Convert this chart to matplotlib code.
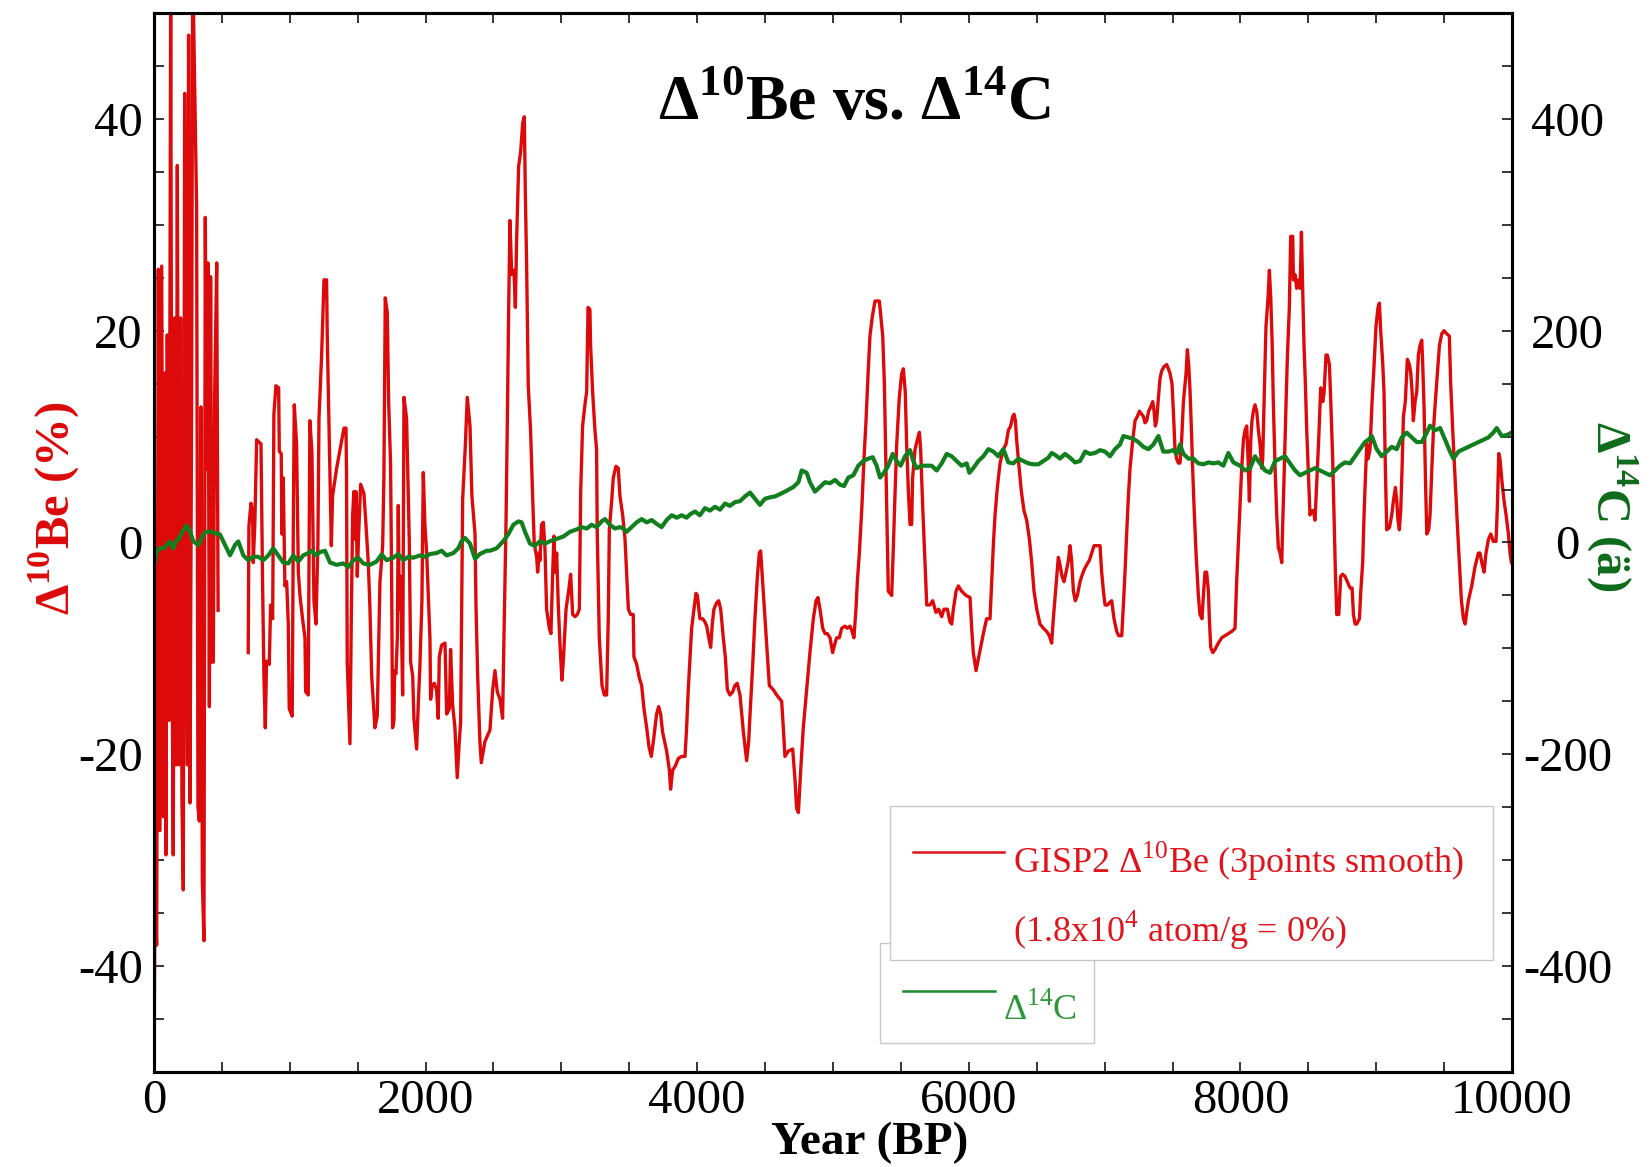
import numpy as np
import matplotlib
matplotlib.use("Agg")
import matplotlib.pyplot as plt
from matplotlib.ticker import MultipleLocator
from matplotlib.patches import Rectangle

plt.rcParams['font.family'] = ['Liberation Serif', 'DejaVu Serif']
plt.rcParams['mathtext.fontset'] = 'custom'
plt.rcParams['mathtext.rm'] = 'Liberation Serif'
plt.rcParams['mathtext.bf'] = 'Liberation Serif:bold'
plt.rcParams['axes.unicode_minus'] = False

# GISP2 10Be (3 points smooth), % ; gap between ~470 and ~700 BP
be_year = [0, 7, 20, 32, 44, 57, 69, 81, 88, 98, 111, 123, 133, 142, 152, 162, 172, 184, 196, 206,
           216, 226, 236, 246, 255, 265, 277, 285, 302, 314, 324, 334, 346, 356, 368, 378, 388, 398,
           408, 417, 427, 437, 447, 462, 472, 580,
           694, 699, 714, 726, 731, 743, 756, 788, 800, 810, 820, 829, 849, 859, 874, 883, 898, 918,
           923, 937, 942, 952, 964, 977, 989, 996, 1018, 1026, 1033, 1050, 1063, 1075, 1094, 1112,
           1117, 1136, 1148, 1163, 1178, 1193, 1207, 1215, 1234, 1252, 1271, 1276, 1291, 1306, 1315,
           1345, 1399, 1414, 1418, 1423, 1443, 1453, 1463, 1472, 1482, 1487, 1497, 1507, 1522, 1546,
           1561, 1578, 1590, 1603, 1627, 1644, 1664, 1684, 1693, 1703, 1718, 1728, 1742, 1750, 1757,
           1767, 1772, 1782, 1792, 1799, 1806, 1816, 1824, 1831, 1841, 1860, 1880, 1890, 1905, 1914,
           1934, 1946, 1958, 1973, 1983, 1995, 2008, 2020, 2032, 2037, 2049, 2064, 2081, 2093, 2101,
           2118, 2143, 2155, 2175, 2184, 2199, 2216, 2233, 2248, 2258, 2273, 2292, 2307, 2327, 2341,
           2364, 2371, 2383, 2400, 2410, 2425, 2437,
           2474, 2494, 2511, 2528, 2548, 2567, 2577, 2592, 2602, 2611, 2621, 2634, 2651, 2661, 2670,
           2685, 2700, 2715, 2727, 2734, 2744, 2756, 2773, 2788, 2800, 2818, 2825, 2837, 2842, 2854,
           2867, 2879, 2891, 2911, 2923, 2935, 2945, 2955, 2965, 2977, 2989, 3004, 3014, 3034, 3053,
           3068, 3083, 3100, 3117, 3132, 3142, 3156, 3176, 3186, 3196, 3210, 3215, 3230, 3247, 3259,
           3264, 3279, 3299, 3316, 3333, 3345, 3353, 3370, 3382, 3402, 3419, 3431, 3451, 3468, 3480,
           3493, 3510, 3529, 3534, 3554, 3574, 3591, 3608, 3628, 3645, 3662, 3677, 3701, 3716, 3731,
           3745, 3775, 3795, 3804, 3819, 3839, 3861, 3885, 3910, 3922, 3934, 3947, 3959, 3976, 3991,
           4001, 4020, 4040, 4057, 4070, 4082, 4099, 4111, 4123, 4143, 4158, 4173, 4192, 4207, 4222,
           4241, 4261, 4278, 4295,
           4315, 4340, 4364, 4379, 4389, 4408, 4425, 4443, 4457, 4467, 4477, 4492, 4511, 4531, 4560,
           4585, 4622, 4634, 4646, 4671, 4703, 4720, 4732, 4745, 4762, 4781, 4806, 4830, 4855, 4875,
           4889, 4904, 4924, 4941, 4958, 4978, 4997, 5015, 5027, 5046, 5064, 5088, 5105, 5125, 5140,
           5154, 5169, 5179, 5194, 5213, 5228, 5243, 5258, 5272, 5289, 5309, 5341, 5366, 5378, 5390,
           5400, 5407, 5432, 5444, 5456, 5469, 5488, 5505, 5518, 5532, 5542, 5555, 5567, 5579, 5586,
           5604, 5621, 5636, 5645, 5660, 5677, 5690, 5714, 5734, 5758, 5778, 5800, 5817, 5842, 5861,
           5874, 5886, 5906, 5923, 5947, 5979, 6009, 6021, 6033, 6053, 6070, 6087, 6107, 6131,
           6156, 6168, 6181, 6193, 6210, 6230, 6254, 6274, 6291, 6308, 6323, 6333, 6343, 6352, 6367,
           6387, 6406, 6426, 6446, 6463, 6480, 6500, 6524, 6549, 6573, 6593, 6610, 6622, 6642, 6659,
           6671, 6686, 6701, 6716, 6733, 6745, 6757, 6770, 6784, 6799, 6819, 6831, 6848, 6868, 6887,
           6905, 6922, 6946, 6966, 6978, 6991, 7003, 7020, 7035, 7052, 7069, 7089, 7103, 7126, 7138,
           7150, 7162, 7175, 7187, 7207, 7224, 7241, 7256, 7273, 7285, 7297, 7310, 7324, 7339, 7354,
           7364, 7373, 7383, 7396, 7408, 7420, 7437, 7457, 7481, 7496, 7506, 7518, 7530, 7543, 7555,
           7567, 7580, 7599, 7609, 7619, 7629, 7639, 7648, 7658, 7673, 7690, 7702, 7717, 7727, 7739,
           7751, 7764, 7771, 7781, 7796, 7813, 7837, 7862, 7887, 7911, 7936, 7960, 7972,
           8009, 8022, 8034, 8046, 8056, 8066, 8076, 8085, 8095, 8107, 8120, 8132, 8144, 8157, 8164,
           8174, 8188, 8203, 8213, 8223, 8233, 8242, 8255, 8267, 8279, 8292, 8304, 8311, 8321, 8336,
           8346, 8360, 8370, 8385, 8390, 8402, 8414, 8427, 8439, 8449, 8458, 8468, 8478, 8488, 8500,
           8512, 8525, 8537, 8549, 8562, 8576, 8591, 8606, 8616, 8630, 8640, 8655, 8665, 8679, 8689,
           8699, 8709, 8724, 8738, 8753, 8770, 8787, 8807, 8822, 8832, 8844, 8856, 8876, 8886, 8900,
           8910, 8920, 8930, 8940, 8954, 8969, 8984, 8998, 9013, 9023, 9033, 9048, 9057, 9067, 9077,
           9097, 9114, 9126, 9141, 9151, 9160, 9170, 9180, 9190, 9200, 9214, 9229, 9244, 9254, 9264,
           9273, 9286, 9298, 9310, 9322, 9335, 9342, 9352, 9362, 9372, 9386, 9396, 9408, 9421, 9435,
           9450, 9465, 9482, 9499, 9519, 9538, 9548, 9563, 9580, 9597, 9612, 9627, 9642, 9654, 9678,
           9703, 9727, 9752, 9764, 9777, 9794, 9808, 9826, 9843, 9862, 9882, 9892, 9902, 9911, 9926,
           9941, 9956, 9973, 9985, 9995]
be_val = [-52, -33.4, -38.0, 25.8, -27.2, 26.1, -25.9, 16.0, -29.5, 19.6, -16.8, 52, -10.6, -29.5, 21.2,
          -21.0, 35.6, -21.0, 21.2, -24.3, -32.8, 42.4, 6.3, -21.0, 47.9, -24.6, 12.8, 55, 41.4, 31.7,
          -25.0, -26.3, 12.8, -31.8, -37.6, 30.7, 6.9, 26.4, -15.5, 25.1, -11.3, -11.3, 14.1, 26.4,
          -6.4, np.nan,
          -10.4, 1.5, 3.7, 3.0, -1.9, 1.9, 9.7, 9.3, -4.1, -12.8, -17.5, -11.2, -11.5, -5.9, -7.2,
          12.1, 14.8, 14.6, 8.6, 8.4, 0.8, 6.1, -4.1, -3.7, -7.7, -15.7, -16.4, 1.7, 13.0, 9.3, -2.8,
          -5.0, -7.2, -9.0, -14.1, -14.4, 11.5, 8.6, -5.5, -7.7, -0.1, 11.7, 17.5, 24.8, 24.8, 19.5,
          9.7, -0.3, 4.4, 7.0, 10.8, 10.8, 6.1, -11.3, -19.0, -7.2, 2.6, 4.8, 0.3, 4.8, -3.2, 0.8,
          5.5, 4.6, 1.7, -1.9, -6.1, -12.6, -17.5, -16.4, -3.7, -0.3, 6.1, 23.1, 21.7, 13.3, 7.5,
          -3.7, -17.5, -16.8, -12.1, -12.4, -9.0, 3.5, -6.3, -3.2, -9.0, -14.4, 13.7, 11.7, 0.1,
          -11.3, -12.6, -16.6, -19.5, -15.3, -11.7, -5.5, 6.6, 1.7, -1.0, -5.0, -9.0, -14.8, -13.5,
          -13.3, -13.9, -16.6, -10.8, -9.7, -9.5, -16.2, -15.7, -10.1, -15.3, -17.5, -22.2, -18.8,
          -17.0, 4.1, 9.0, 13.7, 11.0, 4.4, 0.8, -5.9, -12.4, -18.8, -20.8, -19.7, -18.8,
          -17.7, -13.9, -12.1, -14.1, -14.8, -16.6, -9.0, 1.7, 11.5, 21.3, 30.4, 25.3, 25.7, 22.2,
          28.4, 35.5, 36.9, 39.6, 40.2, 33.3, 26.2, 14.8, 10.6, 4.4, -0.1, -1.4, -2.8, -1.0, -1.7,
          1.7, 1.9, -0.6, -6.3, -8.1, -8.6, -3.2, 0.6, -2.8, -1.0, -5.9, -9.5, -13.0, -11.2, -6.3,
          -4.6, -3.0, -6.8, -7.0, -6.8, -6.3, 4.8, 11.0, 13.3, 14.2, 22.2, 22.0, 18.6, 14.2, 10.6,
          8.8, 0.8, -9.0, -13.5, -14.4, -14.4, -7.2, 1.2, 3.9, 6.1, 7.2, 7.0, 4.4, 2.6, 0.4, -2.8,
          -6.3, -6.8, -6.8, -10.8, -11.5, -12.8, -13.5, -15.7, -17.5, -19.3, -20.2, -18.8, -16.2,
          -15.5, -16.2, -17.9, -19.7, -21.5, -23.3, -21.5, -21.1, -20.4, -20.2, -20.2, -17.5, -13.9,
          -10.8, -8.1, -6.3, -4.8, -5.0, -7.2, -7.2, -7.5, -7.9, -8.8, -9.9, -7.7, -6.3, -5.7, -5.5,
          -6.3, -9.0, -10.8, -13.9, -14.4, -14.1, -13.5, -13.3,
          -14.4, -17.9, -20.6, -18.8, -16.2, -11.7, -7.2, -3.2, -1.0, -0.8, -2.8, -5.9, -9.5, -13.5,
          -13.9, -14.4, -15.0, -17.5, -20.2, -19.7, -19.5, -22.4, -25.1, -25.5, -21.5, -17.5, -13.9,
          -10.4, -7.2, -5.5, -5.2, -6.3, -8.1, -8.6, -8.6, -9.0, -10.4, -9.5, -9.0, -9.0, -8.1, -7.9,
          -8.1, -7.9, -8.4, -9.0, -6.3, -3.7, -1.0, 3.5, 7.9, 11.5, 15.9, 19.5, 21.3, 22.8, 22.8,
          19.5, 15.0, 7.0, 0.8, -4.6, -5.0, -0.5, 4.4, 9.3, 13.7, 15.9, 16.4, 14.2, 9.3, 4.8, 1.7,
          1.7, 6.1, 8.8, 9.7, 10.4, 8.8, 3.5, -1.9, -5.9, -5.9, -5.5, -6.6, -6.3, -7.0, -6.3, -6.3,
          -7.5, -7.7, -6.3, -4.6, -4.1, -4.6, -5.0, -5.2, -8.1, -10.4, -12.1, -11.0, -9.9, -8.6, -7.2,
          -7.2, -3.7, -0.1, 2.6, 5.2, 7.5, 8.8, 9.3, 10.6, 11.0, 11.9, 12.1, 11.5, 9.7, 7.5, 4.8,
          3.0, 2.1, 0.3, -1.9, -4.6, -6.3, -7.7, -8.1, -8.4, -8.8, -9.5, -7.2, -4.1, -1.4, -2.1, -3.2,
          -3.7, -2.8, -1.7, -0.3, -1.7, -4.6, -5.5, -5.0, -3.7, -3.2, -2.6, -2.1, -1.7, -1.0, -0.3,
          -0.3, -0.3, -2.8, -4.6, -5.9, -5.9, -5.7, -5.5, -7.2, -8.4, -8.8, -8.8, -5.9, -2.8, 0.8,
          4.4, 7.0, 9.7, 11.5, 11.9, 12.4, 12.1, 11.9, 11.3, 11.5, 12.4, 12.8, 13.3, 12.4, 11.0,
          11.5, 13.7, 15.5, 16.2, 16.6, 16.8, 16.0, 15.0, 12.4, 8.8, 7.9, 7.5, 7.5, 9.7, 13.3, 15.9,
          18.2, 16.8, 14.2, 10.6, 7.0, 3.5, -1.0, -5.0, -6.8, -7.2, -5.0, -2.8, -2.8, -4.6, -7.2,
          -9.9, -10.4, -10.1, -9.5, -9.0, -8.8, -8.6, -8.4, -8.1, -3.7,
          7.0, 9.7, 10.6, 11.0, 7.9, 3.9, 9.7, 11.5, 12.4, 13.0, 12.4, 10.6, 9.3, 7.0, 7.9, 13.3,
          20.4, 23.1, 25.7, 23.1, 19.0, 13.3, 7.0, 2.6, -0.5, -1.0, -1.9, 1.7, 6.1, 13.3, 17.7, 22.2,
          28.9, 28.9, 24.8, 25.3, 24.0, 24.8, 24.0, 29.3, 24.0, 18.6, 15.0, 10.6, 6.6, 2.6, 3.0, 3.0,
          2.1, 5.7, 9.7, 14.6, 13.3, 14.2, 17.7, 17.7, 16.8, 13.3, 7.9, 2.6, -2.8, -6.8, -6.8, -3.2,
          -3.0, -3.2, -3.7, -4.3, -4.3, -6.8, -7.7, -7.7, -7.2, -4.6, -1.9, 2.6, 6.1, 9.3, 7.9, 8.8,
          13.3, 16.8, 20.4, 22.2, 22.6, 19.9, 16.8, 14.2, 7.0, 1.2, 1.4, 2.6, 3.9, 5.2, 3.9, 2.1, 1.2,
          3.0, 7.0, 11.9, 13.3, 17.3, 16.8, 16.0, 14.2, 11.5, 13.3, 14.2, 17.7, 18.6, 19.1, 16.8,
          12.8, 6.1, 0.8, 1.2, 2.6, 6.6, 10.6, 13.3, 15.9, 18.6, 19.7, 20.0, 19.7, 19.5, 15.0, 10.6,
          6.1, 1.7, -1.9, -5.5, -7.2, -7.7, -5.5, -4.1, -2.3, -1.0, -1.0, -1.9, -2.8, -1.0, 0.3, 0.8,
          0.1, 0.1, 3.5, 8.4, 7.9, 5.7, 3.9, 2.6, 0.8, -1.0, -1.9]

# Delta 14C, permil
c14_year = [0, 20, 39, 69, 93, 118, 142, 162, 187, 211, 241, 265, 290, 327, 351, 376, 400, 437, 486,
            523, 560, 597, 621, 658, 694, 731, 768, 805, 842, 878, 915, 952, 989, 1026, 1063, 1099,
            1136, 1161, 1193, 1222, 1259, 1296, 1345, 1394, 1431, 1468, 1504, 1541, 1590, 1639, 1676,
            1713, 1762, 1799, 1836, 1873, 1909, 1958, 1995, 2032, 2081, 2118, 2155, 2204, 2241, 2265,
            2290, 2327, 2364, 2400, 2449, 2474, 2523, 2572, 2609, 2646, 2683, 2707, 2732, 2769, 2805,
            2842, 2879, 2916, 2965, 3014, 3063, 3112, 3149, 3186, 3223, 3259, 3296, 3321, 3358, 3394,
            3431, 3456, 3480, 3517, 3554, 3591, 3628, 3665, 3701, 3738, 3775, 3812, 3849, 3885, 3922,
            3947, 3984, 4020, 4057, 4094, 4131, 4168, 4205, 4241, 4278, 4315, 4352, 4389, 4425, 4462,
            4499, 4536, 4573, 4610, 4659, 4708, 4745, 4769, 4806, 4830, 4867, 4904, 4941, 4978, 5015,
            5051, 5081, 5113, 5150, 5186, 5223, 5260, 5292, 5321, 5346, 5375, 5407, 5439, 5469, 5498,
            5530, 5567, 5591, 5616, 5653, 5690, 5726, 5763, 5800, 5837, 5874, 5910, 5947, 5984, 6004,
            6033, 6070, 6107, 6144, 6181, 6217, 6254, 6291, 6328, 6365, 6401, 6438, 6475, 6512, 6549,
            6586, 6610, 6635, 6671, 6708, 6745, 6782, 6819, 6856, 6892, 6929, 6966, 7003, 7040, 7076,
            7113, 7138, 7175, 7211, 7248, 7285, 7322, 7359, 7396, 7432, 7469, 7506, 7531, 7555, 7580,
            7617, 7653, 7690, 7727, 7764, 7801, 7837, 7874, 7911, 7948, 7997, 8034, 8071, 8107, 8144,
            8181, 8218, 8255, 8292, 8328, 8365, 8402, 8439, 8476, 8512, 8549, 8586, 8623, 8660, 8697,
            8733, 8770, 8807, 8844, 8881, 8917, 8942, 8967, 9003, 9040, 9077, 9114, 9151, 9187, 9224,
            9261, 9298, 9335, 9372, 9396, 9433, 9470, 9507, 9543, 9568, 9605, 9642, 9678, 9715, 9752,
            9789, 9826, 9862, 9887, 9924, 9961, 9995]
c14_val = [-21.8, -8.8, -5.5, -5.5, -2.3, 1.0, -5.5, 1.0, 4.2, 10.7, 15.9, 10.7, 1.0, -2.3, 4.2, 9.4,
           10.7, 9.4, 7.5, -2.3, -12.1, -2.3, 1.0, -12.2, -16.7, -13.5, -13.5, -16.7, -12.2, -5.5,
           -12.2, -18.9, -19.8, -12.2, -18.0, -12.2, -10.0, -7.8, -12.2, -9.1, -7.8, -18.9, -21.1,
           -19.8, -23.3, -16.7, -14.4, -19.8, -21.1, -18.0, -11.3, -16.7, -14.4, -10.9, -16.7, -13.5,
           -14.4, -12.2, -13.5, -10.9, -10.0, -7.8, -12.2, -10.0, -5.5, 1.2, 4.3, -1.1, -15.3, -10.9,
           -7.8, -7.8, -5.5, 1.2, 7.8, 16.7, 19.9, 19.0, 10.1, -1.1, -3.3, 1.2, -1.1, 1.2, 3.4, 5.6,
           10.1, 12.3, 14.5, 13.2, 16.7, 14.5, 19.9, 22.1, 16.7, 13.2, 14.5, 13.2, 10.1, 14.5, 19.0,
           22.1, 19.0, 21.2, 17.6, 14.5, 21.2, 25.7, 23.4, 25.7, 23.4, 26.6, 29.2, 25.7, 32.4, 30.1,
           33.7, 31.0, 36.8, 34.6, 38.1, 39.0, 43.5, 47.1, 41.3, 35.5, 41.3, 42.6, 43.5, 45.7, 48.9,
           52.4, 56.9, 68.0, 65.8, 56.9, 48.0, 52.4, 56.9, 56.0, 59.1, 54.6, 53.3, 61.3, 63.5, 72.5,
           76.9, 79.2, 80.5, 72.5, 61.3, 65.8, 72.5, 83.6, 76.9, 72.5, 81.4, 87.2, 76.9, 70.2, 72.5,
           72.5, 72.5, 68.0, 74.7, 83.6, 81.4, 76.9, 72.5, 74.7, 65.8, 70.2, 76.9, 81.4, 88.1, 85.8,
           81.4, 88.1, 75.6, 74.7, 79.2, 76.9, 74.7, 73.8, 73.8, 76.9, 80.1, 84.5, 82.7, 79.2, 83.6,
           80.1, 75.6, 76.9, 85.8, 83.6, 84.5, 87.2, 85.8, 81.4, 88.1, 92.5, 100.5, 99.2, 97.9, 94.8,
           90.3, 88.1, 92.5, 100.5, 85.8, 85.8, 87.2, 83.6, 92.5, 83.6, 79.2, 79.2, 74.7, 73.8, 75.6,
           74.7, 75.6, 72.5, 84.5, 75.6, 72.5, 68.0, 70.2, 81.4, 74.7, 68.0, 65.8, 76.9, 79.2, 81.4,
           74.7, 68.0, 63.5, 65.8, 68.0, 70.2, 68.0, 65.8, 63.5, 68.0, 72.5, 75.6, 74.7, 81.4, 88.1,
           94.8, 97.0, 100.5, 88.1, 81.4, 85.8, 90.3, 88.1, 99.2, 103.7, 99.2, 94.8, 94.8, 103.7,
           110.3, 105.9, 108.1, 97.0, 85.8, 79.2, 85.8, 88.1, 90.3, 92.5, 94.8, 97.0, 99.2, 103.7,
           108.1, 100.5, 101.4, 103.7]

red = '#dc0a0a'
green = '#117f1e'

fig = plt.figure(figsize=(16.52, 11.67), dpi=100)
ax = fig.add_axes([0.0932, 0.0814, 0.8221, 0.9075])
ax2 = ax.twinx()

ax.plot(be_year, be_val, color=red, lw=2.4)
ax2.plot(c14_year, c14_val, color=green, lw=3.0)

ax.set_xlim(0, 10000)
ax.set_ylim(-50, 50)
ax2.set_ylim(-500, 500)

ax.set_xticks([0, 2000, 4000, 6000, 8000, 10000])
ax.xaxis.set_minor_locator(MultipleLocator(500))
ax.set_yticks([-40, -20, 0, 20, 40])
ax.yaxis.set_minor_locator(MultipleLocator(5))
ax2.set_yticks([-400, -200, 0, 200, 400])
ax2.yaxis.set_minor_locator(MultipleLocator(50))

ax.tick_params(axis='both', which='both', direction='in', length=7, width=1.1, labelsize=35)
ax.tick_params(axis='x', which='both', top=True, pad=5)
ax.tick_params(axis='y', which='both', right=False, pad=8)
ax2.tick_params(axis='y', which='both', direction='in', length=7, width=1.1, labelsize=35, pad=40)
plt.setp(ax2.get_yticklabels(), ha='center')

for a in (ax, ax2):
    for s in a.spines.values():
        s.set_linewidth(2.2)

fig.text(0.517, 0.910, r"Δ$^{\mathbf{10}}$Be vs. Δ$^{\mathbf{14}}$C", fontsize=46,
         fontweight='bold', ha='center', va='center')
fig.text(0.5266, 0.021, "Year (BP)", fontsize=34, fontweight='bold', ha='center', va='center')
fig.text(0.0330, 0.5645, r"Δ$^{\mathbf{10}}$Be (%)", fontsize=35, fontweight='bold',
         color=red, rotation=90, ha='center', va='center')
fig.text(0.9755, 0.5660, r"Δ$^{\mathbf{14}}$C (ä)", fontsize=35, fontweight='bold',
         color='#0d6b1a', rotation=270, ha='center', va='center')

# legend boxes
tr = ax2.transAxes
ax2.add_patch(Rectangle((0.5346, 0.0274), 0.1574, 0.0944, transform=tr, facecolor='white',
                        edgecolor='#c8c8c8', lw=1.0, zorder=5))
ax2.add_patch(Rectangle((0.5420, 0.1058), 0.4440, 0.1454, transform=tr, facecolor='white',
                        edgecolor='#c8c8c8', lw=1.0, zorder=6))
ax2.plot([0.5590, 0.6260], [0.2077, 0.2077], transform=tr, color='#e0141c', lw=1.8, zorder=7)
ax2.text(0.6326, 0.1879, r"GISP2 Δ$^{\mathrm{10}}$Be (3points smooth)", transform=tr,
         fontsize=26, color='#e0141c', va='baseline', zorder=7)
ax2.text(0.6326, 0.1228, r"(1.8x10$^{\mathrm{4}}$ atom/g = 0%)", transform=tr,
         fontsize=26, color='#e0141c', va='baseline', zorder=7)
ax2.plot([0.5515, 0.6190], [0.0765, 0.0765], transform=tr, color='#1a8a2a', lw=1.8, zorder=7)
ax2.text(0.6250, 0.0491, r"Δ$^{\mathrm{14}}$C", transform=tr, fontsize=26, color='#2e9636',
         va='baseline', zorder=7)

fig.savefig("out.png", dpi=100)
